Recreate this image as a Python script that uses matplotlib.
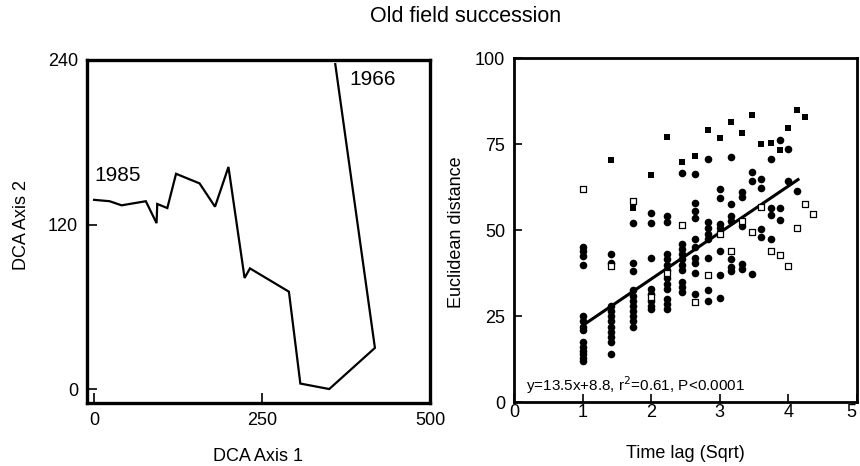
import numpy as np
import matplotlib
matplotlib.use('Agg')
import matplotlib.pyplot as plt
from matplotlib.transforms import ScaledTranslation

plt.rcParams['font.family'] = ['Liberation Sans', 'DejaVu Sans']

# 左: DCA の軌跡 (1985 -> 1966)
dca1 = [0, 23, 41, 77, 93, 94, 109, 122, 157, 180, 200, 224, 232, 290, 307, 350, 418, 359]
dca2 = [138, 137, 134, 137, 121, 135, 132, 157, 150, 133, 162, 81, 88, 71, 4, 0, 30, 237]

# 右: タイムラグ (年) ごとのユークリッド距離
circle_dist = [
    [45, 44, 42.5, 40, 25, 23.5, 22, 21, 17.5, 16, 15, 14, 13, 12],      # 1
    [43, 40.5, 28, 26.5, 25, 23.5, 22, 20.5, 19, 17.5, 14],               # 2
    [52, 40.5, 38, 32.5, 31, 29.5, 28, 26.5, 25, 23.5, 22],               # 3
    [55, 52, 42, 33, 31.5, 29.5, 28, 27],                                 # 4
    [54, 52.5, 43, 41.5, 40, 38.5, 36, 34.5, 33, 30, 28.5, 27],           # 5
    [66.5, 46, 44.5, 43, 41.5, 40, 38.5, 35, 33.5, 32],                   # 6
    [66.3, 58, 55.5, 53.5, 47.5, 45, 42, 40.5, 37.5, 31.5],               # 7
    [70.6, 52.5, 50.5, 49, 47.5, 42, 32.5, 29.5],                         # 8
    [62, 59.3, 51.7, 50.5, 43.8, 37, 30.3],                               # 9
    [71.3, 57.5, 54, 52.6, 41.5, 39.3, 38],                               # 10
    [61.2, 59.5, 51.3, 40.2, 38.8],                                       # 11
    [67, 64.2, 37.2],                                                     # 12
    [64.8, 62.2, 50.2, 47.9],                                             # 13
    [70.6, 56.3, 54.5, 47.3],                                             # 14
    [76.2, 56.5, 53],                                                     # 15
    [73.6, 64.3],                                                         # 16
    [61.4],                                                               # 17
]
fsq_lag = [2, 3, 4, 5, 6, 7, 8, 9, 10, 11, 12, 13, 14, 15, 16, 17, 18]
fsq_dist = [70.5, 56.5, 66, 77, 69.7, 71.4, 79, 76.7, 81.4, 78.3, 83.3, 75, 75.2, 73.3, 79.7, 85, 82.8]
osq_lag = [1, 2, 3, 4, 5, 6, 7, 8, 9, 10, 11, 12, 13, 14, 15, 16, 17, 18, 19]
osq_dist = [62, 39.5, 58.5, 30.5, 37.5, 51.4, 29, 37, 48.8, 44, 52.8, 49.5, 56.8, 44, 42.7, 39.5, 50.6, 57.7, 54.6]

slope, intercept = 13.5, 8.8
fit_range = [1, 4.14]

circ_lag = np.concatenate([[i + 1] * len(v) for i, v in enumerate(circle_dist)])
circ_dist = np.concatenate(circle_dist)

fig = plt.figure(figsize=(8.6, 4.66), dpi=100)
fig.text(0.541, 1 - 17 / 466, 'Old field succession', ha='center', va='center', fontsize=15.5)

# ---- 左パネル
ax1 = fig.add_axes([86.7 / 860, 62.7 / 466, 343.3 / 860, 343.3 / 466])
ax1.plot(dca1, dca2, color='black', lw=1.6, solid_joinstyle='miter')
ax1.text(1, 156, '1985', fontsize=15, va='center', ha='left')
ax1.text(380, 226, '1966', fontsize=15, va='center', ha='left')
ax1.set_xlim(-11, 500)
ax1.set_ylim(-10.4, 240)
ax1.set_xticks([0, 250, 500])
ax1.set_yticks([0, 120, 240])
ax1.tick_params(direction='in', length=7, width=1.2, labelsize=13)
ax1.tick_params(axis='y', pad=6.3)
ax1.tick_params(axis='x', pad=6)
ax1.set_xlabel('DCA Axis 1', fontsize=13, va='center')
ax1.xaxis.set_label_coords(0.499, -0.156)
ax1.set_ylabel('DCA Axis 2', fontsize=13, va='center')
ax1.yaxis.set_label_coords(-0.1885, 0.52)
for s in ax1.spines.values():
    s.set_linewidth(2.4)

# ---- 右パネル
ax2 = fig.add_axes([514 / 860, 63.7 / 466, 343 / 860, 344.3 / 466])
ax2.scatter(np.sqrt(circ_lag), circ_dist, s=30, marker='o', color='black', linewidths=0, zorder=3)
ax2.scatter(np.sqrt(fsq_lag), fsq_dist, s=24, marker='s', color='black', linewidths=0, zorder=3)
ax2.scatter(np.sqrt(osq_lag), osq_dist, s=24, marker='s', facecolor='white', edgecolor='black',
            linewidths=0.9, zorder=4)
fx = np.array(fit_range)
ax2.plot(fx, slope * fx + intercept, color='black', lw=2.2, zorder=3.5)
ax2.text(0.18, 5, 'y=13.5x+8.8, r$^2$=0.61, P<0.0001', fontsize=11, va='center', ha='left')
ax2.set_xlim(0, 5)
ax2.set_ylim(0, 100)
ax2.set_xticks([0, 1, 2, 3, 4, 5])
ax2.set_yticks([0, 25, 50, 75, 100])
ax2.tick_params(direction='in', length=6, width=1.2, labelsize=13)
ax2.tick_params(axis='y', pad=6.5)
ax2.tick_params(axis='x', pad=1)
ax2.set_xlabel('Time lag (Sqrt)', fontsize=13, va='center')
ax2.xaxis.set_label_coords(0.5, -0.15)
ax2.set_ylabel('Euclidean distance', fontsize=13, va='center')
ax2.yaxis.set_label_coords(-0.169, 0.495)
for s in ax2.spines.values():
    s.set_linewidth(2.0)

# 右端の "5" が切れないように少し左へ
last = ax2.xaxis.get_major_ticks()[-1].label1
last.set_transform(last.get_transform() + ScaledTranslation(-4 / 72, 0, fig.dpi_scale_trans))

plt.savefig('out.png', dpi=100)
